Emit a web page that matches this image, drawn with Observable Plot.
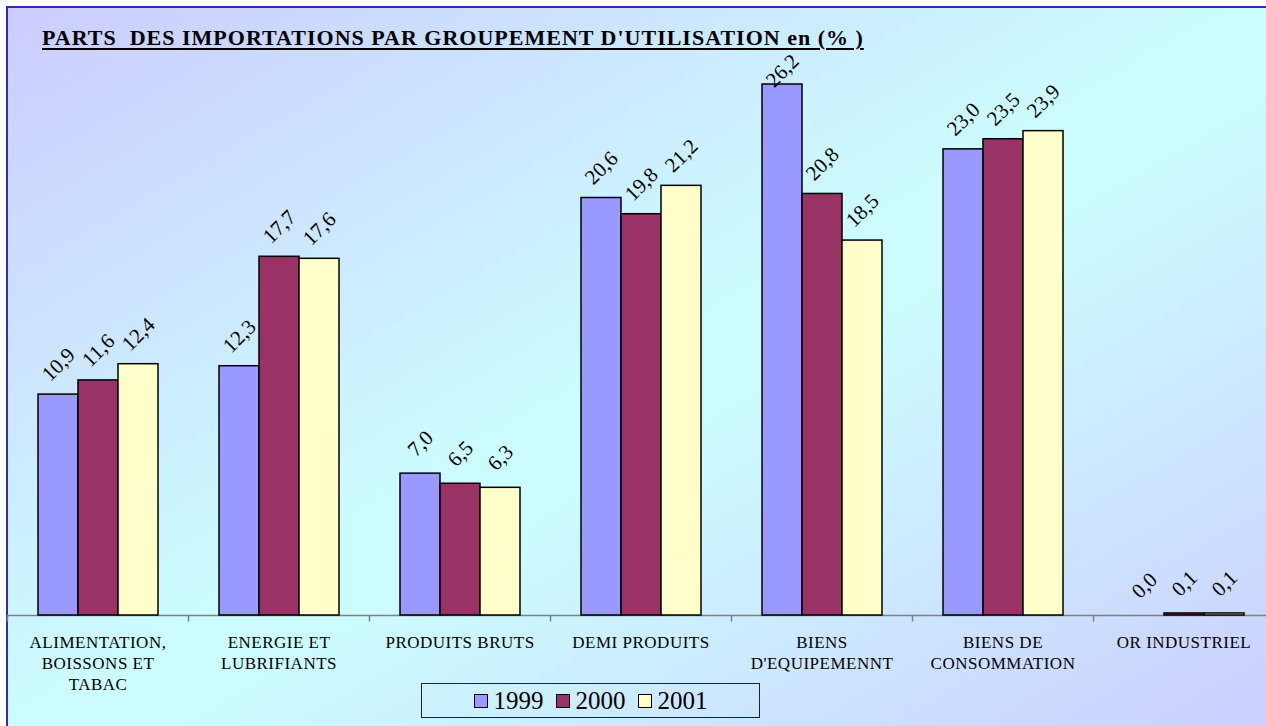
<!DOCTYPE html>
<html>
<head>
<meta charset="utf-8">
<script src="https://cdn.jsdelivr.net/npm/d3@7"></script>
<script src="https://cdn.jsdelivr.net/npm/@observablehq/plot@0.6"></script>
<style>
  html, body { margin: 0; padding: 0; background: #ffffff; }
  #wrap {
    position: relative; width: 1266px; height: 726px; overflow: hidden;
    background: #ffffff;
  }
  #panel {
    position: absolute; left: 6px; top: 6px; width: 1280px; height: 740px;
    border-left: 2px solid #3030a8; border-top: 2px solid #3030a8;
    background: linear-gradient(to bottom right, #ccccff 0%, #ccfcff 48%, #ccfcff 55%, #ccccff 100%);
  }
  #chart { position: absolute; left: 0; top: 0; width: 1290px; }
  #chart svg { max-width: none !important; }
  #chart svg g[aria-label="fx-axis tick label"] text { letter-spacing: 0.5px; }
  #title {
    position: absolute; left: 42px; top: 25px; white-space: pre;
    font-family: "Liberation Serif", "Times New Roman", serif; font-weight: bold; font-size: 22px;
    letter-spacing: 1px;
    text-decoration: underline; text-decoration-thickness: 2px; text-underline-offset: 3px;
    color: #000;
  }
  #legend {
    position: absolute; left: 421px; top: 683px; width: 339px; height: 35px;
    border: 1px solid #222; box-sizing: border-box;
    display: flex; align-items: center; justify-content: center; gap: 12px;
    font-family: "Liberation Serif", "Times New Roman", serif; font-size: 25px; color: #000;
  }
  #legend .item { display: flex; align-items: center; gap: 6px; }
  #legend .sw { width: 14px; height: 14px; border: 1.5px solid #000; box-sizing: border-box; }
</style>
</head>
<body>
<div id="wrap">
  <div id="panel"></div>
  <div id="chart"></div>
  <div id="title">PARTS  DES IMPORTATIONS PAR GROUPEMENT D'UTILISATION en (% )</div>
  <div id="legend"></div>
</div>
<script>
const categories = [
  "ALIMENTATION,\nBOISSONS ET\nTABAC",
  "ENERGIE ET\nLUBRIFIANTS",
  "PRODUITS BRUTS",
  "DEMI PRODUITS",
  "BIENS\nD'EQUIPEMENNT",
  "BIENS DE\nCONSOMMATION",
  "OR INDUSTRIEL"
];
const years = ["1999", "2000", "2001"];
const values1999 = [10.9, 12.3, 7.0, 20.6, 26.2, 23.0, 0.0];
const values2000 = [11.6, 17.7, 6.5, 19.8, 20.8, 23.5, 0.1];
const values2001 = [12.4, 17.6, 6.3, 21.2, 18.5, 23.9, 0.1];
const colors = ["#9999ff", "#993366", "#ffffcc"];
// labels are kept inside the plot area (as the spreadsheet does)
const labelCap = 25.4;

const series = [values1999, values2000, values2001];
const data = [];
categories.forEach((c, i) => {
  years.forEach((y, j) => data.push({category: c, year: y, value: series[j][i]}));
});

const fmt = v => v.toFixed(1).replace(".", ",");
const tickSymbol = { draw(ctx, size) { ctx.moveTo(0, 0); ctx.lineTo(0, 6); } };
const font = "'Liberation Serif', 'Times New Roman', serif";

const chart = Plot.plot({
  width: 1290,
  height: 726,
  marginLeft: 7,
  marginRight: 16,
  marginTop: 7,
  marginBottom: 111,
  style: { background: "transparent", fontFamily: font, maxWidth: "none" },
  fx: { domain: categories, padding: 0, label: null },
  x: { domain: years, paddingInner: 0, paddingOuter: 0.7625, axis: null },
  y: { domain: [0, 30], axis: null },
  color: { domain: years, range: colors },
  marks: [
    Plot.ruleY([0], { stroke: "#808080", strokeWidth: 1.5 }),
    Plot.dot(categories, { fx: d => d, frameAnchor: "bottom-left", symbol: tickSymbol, fill: "none", stroke: "#808080", strokeWidth: 1.5 }),
    Plot.barY(data, { fx: "category", x: "year", y: "value", fill: "year", stroke: "#000", strokeWidth: 1.5 }),
    Plot.text(data, { fx: "category", x: "year", y: d => Math.min(d.value, labelCap), text: d => fmt(d.value), rotate: -45, dy: -30, fontSize: 21, fontFamily: font, fill: "#000" }),
    Plot.axisFx({ anchor: "bottom", tickSize: 0, tickPadding: 17, fontSize: 17, lineHeight: 1.25, fontFamily: font, fill: "#000", label: null })
  ]
});
document.getElementById("chart").appendChild(chart);

const legend = document.getElementById("legend");
years.forEach((y, i) => {
  const item = document.createElement("div");
  item.className = "item";
  const sw = document.createElement("div");
  sw.className = "sw";
  sw.style.background = colors[i];
  const t = document.createElement("span");
  t.textContent = y;
  item.appendChild(sw); item.appendChild(t);
  legend.appendChild(item);
});
</script>
</body>
</html>
